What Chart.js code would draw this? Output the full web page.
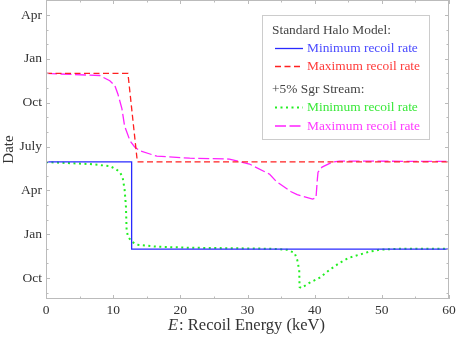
<!DOCTYPE html>
<html><head><meta charset="utf-8">
<script src="https://cdn.jsdelivr.net/npm/chart.js@4/dist/chart.umd.min.js"></script>
<style>html,body{margin:0;padding:0;background:#fff}canvas{display:block}</style>
</head><body>
<canvas id="c" width="457" height="339"></canvas>
<script>
// Date axis in months (Oct = 10, Jan = 13, Apr = 16, July = 19, ...)
const yTickValues = [10, 13, 16, 19, 22, 25, 28];
const yTickLabels = ["Oct", "Jan", "Apr", "July", "Oct", "Jan", "Apr"];
const xTickValues = [0, 10, 20, 30, 40, 50, 60];

const shmMinE    = [0, 12.75, 12.75, 60];
const shmMinDate = [17.95, 17.95, 11.98, 11.98];

const shmMaxE    = [0, 12.2, 13.6, 60];
const shmMaxDate = [24.0, 24.0, 17.95, 17.95];

const sgrMinE    = [0, 6.5, 9.5, 10.4, 11.0, 11.4, 11.7, 11.9, 12.0, 12.2, 12.8, 13.5, 16.5, 21.4, 33.7, 35.9, 37.0, 37.4, 37.7, 37.75, 38.0, 39.2, 40.7, 42.2, 43.7, 45.1, 46.6, 48.1, 49.6, 52.6, 60];
const sgrMinDate = [17.93, 17.8, 17.66, 17.45, 17.24, 16.9, 16.07, 14.9, 13.3, 12.83, 12.48, 12.28, 12.14, 12.07, 12.0, 11.93, 11.72, 11.24, 10.55, 9.38, 9.31, 9.66, 10.0, 10.55, 11.03, 11.38, 11.59, 11.79, 11.93, 12.0, 12.0];

const sgrMaxE    = [0, 8.0, 9.5, 10.25, 10.7, 11.3, 11.7, 12.5, 13.2, 14.0, 16.5, 21.4, 27.3, 30.3, 33.3, 34.3, 36.5, 37.4, 39.7, 40.2, 40.4, 40.5, 41.1, 42.6, 43.7, 60];
const sgrMaxDate = [24.0, 23.86, 23.5, 23.17, 22.6, 21.6, 20.4, 19.4, 18.97, 18.7, 18.34, 18.2, 18.14, 17.8, 17.1, 16.6, 15.9, 15.7, 15.4, 15.5, 16.76, 17.24, 17.59, 17.93, 18.0, 17.98];

const groupTitles = ["Standard Halo Model:", "+5% Sgr Stream:"];
const seriesLabels = ["Minimum recoil rate", "Maximum recoil rate", "Minimum recoil rate", "Maximum recoil rate"];

const pts = (xs, ys) => xs.map((x, i) => ({x, y: ys[i]}));
const SERIF = "'Liberation Serif', 'DejaVu Serif', serif";

const datasets = [
  {label: seriesLabels[0], data: pts(shmMinE, shmMinDate), borderColor: '#2a2aff', borderWidth: 1.3, borderDash: []},
  {label: seriesLabels[1], data: pts(shmMaxE, shmMaxDate), borderColor: '#ff2020', borderWidth: 1.3, borderDash: [6, 3.5]},
  {label: seriesLabels[2], data: pts(sgrMinE, sgrMinDate), borderColor: '#22ee22', borderWidth: 2, borderDash: [2, 3.5]},
  {label: seriesLabels[3], data: pts(sgrMaxE, sgrMaxDate), borderColor: '#ff22ff', borderWidth: 1.3, borderDash: [11, 3.5]}
].map(d => Object.assign(d, {pointRadius: 0, fill: false, tension: 0}));

const decor = {
  id: 'decor',
  afterDatasetsDraw(chart) {
    const ctx = chart.ctx, a = chart.chartArea;
    const xs = chart.scales.x, ys = chart.scales.y;
    ctx.save();
    ctx.strokeStyle = '#bbbbbb';
    ctx.lineWidth = 1;
    ctx.strokeRect(a.left + 0.5, a.top + 0.5, a.right - a.left - 1, a.bottom - a.top - 1);
    for (let v = 0; v <= 60; v += 5) {
      const px = Math.round(xs.getPixelForValue(v)) + 0.5;
      const len = v % 10 === 0 ? 4 : 2.5;
      ctx.beginPath();
      ctx.moveTo(px, a.bottom); ctx.lineTo(px, a.bottom - len);
      ctx.moveTo(px, a.top); ctx.lineTo(px, a.top + len);
      ctx.stroke();
    }
    for (let v = 9; v <= 29; v += 1) {
      const py = Math.round(ys.getPixelForValue(v)) + 0.5;
      const len = (v - 10) % 3 === 0 ? 4 : 2.5;
      ctx.beginPath();
      ctx.moveTo(a.left, py); ctx.lineTo(a.left + len, py);
      ctx.moveTo(a.right, py); ctx.lineTo(a.right - len, py);
      ctx.stroke();
    }
    // legend
    const lx = 262.5, ly = 15.5, lw = 167, lh = 124;
    ctx.fillStyle = '#ffffff';
    ctx.fillRect(lx, ly, lw, lh);
    ctx.strokeStyle = '#cccccc';
    ctx.strokeRect(lx, ly, lw, lh);
    ctx.font = '13.4px ' + SERIF;
    ctx.textBaseline = 'middle';
    ctx.textAlign = 'left';
    ctx.fillStyle = '#444444';
    ctx.fillText(groupTitles[0], 272, 30);
    ctx.fillText(groupTitles[1], 272, 89);
    const rows = [48.5, 66.5, 107.5, 126];
    const textCols = ['#4a4aff', '#ff3a3a', '#3ae83a', '#ff3aff'];
    chart.data.datasets.forEach((d, i) => {
      const y = rows[i];
      ctx.strokeStyle = d.borderColor;
      ctx.lineWidth = d.borderWidth;
      ctx.setLineDash(d.borderDash);
      ctx.beginPath(); ctx.moveTo(275, y); ctx.lineTo(303, y); ctx.stroke();
      ctx.setLineDash([]);
      ctx.fillStyle = textCols[i];
      ctx.fillText(d.label, 307, y);
    });
    // x-axis title with italic E
    const t1 = 'E', t2 = ': Recoil Energy (keV)';
    ctx.fillStyle = '#333333';
    const fs = 16.5;
    ctx.font = 'italic ' + fs + 'px ' + SERIF;
    const w1 = ctx.measureText(t1).width;
    ctx.font = fs + 'px ' + SERIF;
    const w2 = ctx.measureText(t2).width;
    let sx = 246 - (w1 + w2) / 2;
    ctx.font = 'italic ' + fs + 'px ' + SERIF;
    ctx.fillText(t1, sx, 326);
    ctx.font = fs + 'px ' + SERIF;
    ctx.fillText(t2, sx + w1 + 1, 326);
    ctx.restore();
  }
};

new Chart(document.getElementById('c'), {
  type: 'line',
  data: {datasets},
  options: {
    responsive: false,
    animation: false,
    layout: {padding: {top: 0, right: 8, left: 0, bottom: 0}},
    plugins: {legend: {display: false}, tooltip: {enabled: false}},
    scales: {
      x: {
        type: 'linear', min: 0, max: 60,
        grid: {display: false, drawTicks: false}, border: {display: false},
        afterBuildTicks: s => { s.ticks = xTickValues.map(v => ({value: v})); },
        afterFit: s => { s.height = 40; s.paddingLeft = 0; s.paddingRight = 0; },
        ticks: {color: '#333', font: {family: SERIF, size: 13.5}, padding: 3, maxRotation: 0, callback: v => String(v)}
      },
      y: {
        type: 'linear', min: 8.56, max: 29.03,
        grid: {display: false, drawTicks: false}, border: {display: false},
        afterBuildTicks: s => { s.ticks = yTickValues.map(v => ({value: v})); },
        afterFit: s => { s.width = 46; s.paddingTop = 0; s.paddingBottom = 0; },
        ticks: {color: '#333', font: {family: SERIF, size: 13.5}, padding: 4,
          callback: (v) => { const i = yTickValues.indexOf(v); return i >= 0 ? yTickLabels[i] : ''; }},
        title: {display: true, text: 'Date', color: '#333', font: {family: SERIF, size: 15}, padding: {top: 0, bottom: 0}}
      }
    }
  },
  plugins: [decor]
});
</script>
</body></html>
